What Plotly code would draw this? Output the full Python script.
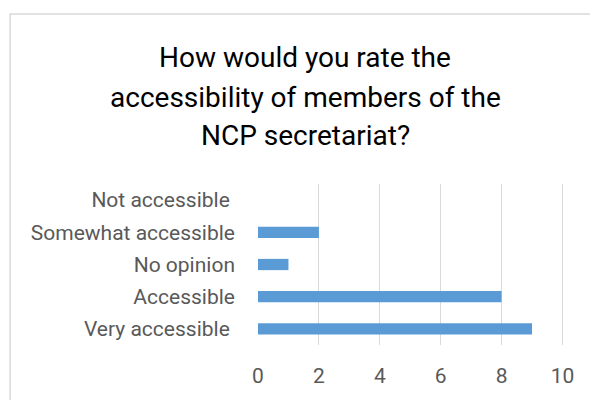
import plotly.graph_objects as go

# Survey responses (bottom to top)
categories = ["Very accessible\u00a0", "Accessible", "No opinion", "Somewhat accessible", "Not accessible\u00a0"]
counts = [9, 8, 1, 2, 0]
x_ticks = [0, 2, 4, 6, 8, 10]
title_lines = ["How would you rate the", "accessibility of members of the", "NCP secretariat?"]

FONT = "Roboto"

fig = go.Figure(
    go.Bar(
        x=counts,
        y=categories,
        orientation="h",
        marker=dict(color="#5b9bd5", line=dict(width=0)),
        width=0.35,
    )
)

# Title: three centred lines above the plot area
line_y = [1.783, 1.540, 1.304]
for text, yy in zip(title_lines, line_y):
    fig.add_annotation(
        text=text, xref="paper", yref="paper", x=0.154, y=yy,
        xanchor="center", yanchor="middle", showarrow=False,
        font=dict(family=FONT, size=28, color="#000000"),
    )

# Light chart border
fig.add_shape(
    type="rect", xref="paper", yref="paper",
    x0=-0.81, x1=1.5, y0=-1.0, y1=2.056,
    line=dict(color="#d9d9d9", width=1.5), fillcolor="rgba(0,0,0,0)", layer="below",
)

fig.update_layout(
    width=590, height=400,
    margin=dict(l=258, r=26, t=184, b=55),
    paper_bgcolor="white", plot_bgcolor="white",
    showlegend=False,
    font=dict(family=FONT, size=21, color="#595959"),
    xaxis=dict(
        range=[0, 10.05], tickvals=x_ticks, showgrid=True, gridcolor="#d9d9d9", gridwidth=1,
        zeroline=False, showline=False, ticks="", ticklabelstandoff=16,
        tickfont=dict(family=FONT, size=21, color="#595959"),
    ),
    yaxis=dict(
        showgrid=False, zeroline=False, showline=False, ticks="",
        ticklabelstandoff=22, tickfont=dict(family=FONT, size=21, color="#595959"),
    ),
)

fig.write_html("out.html")
